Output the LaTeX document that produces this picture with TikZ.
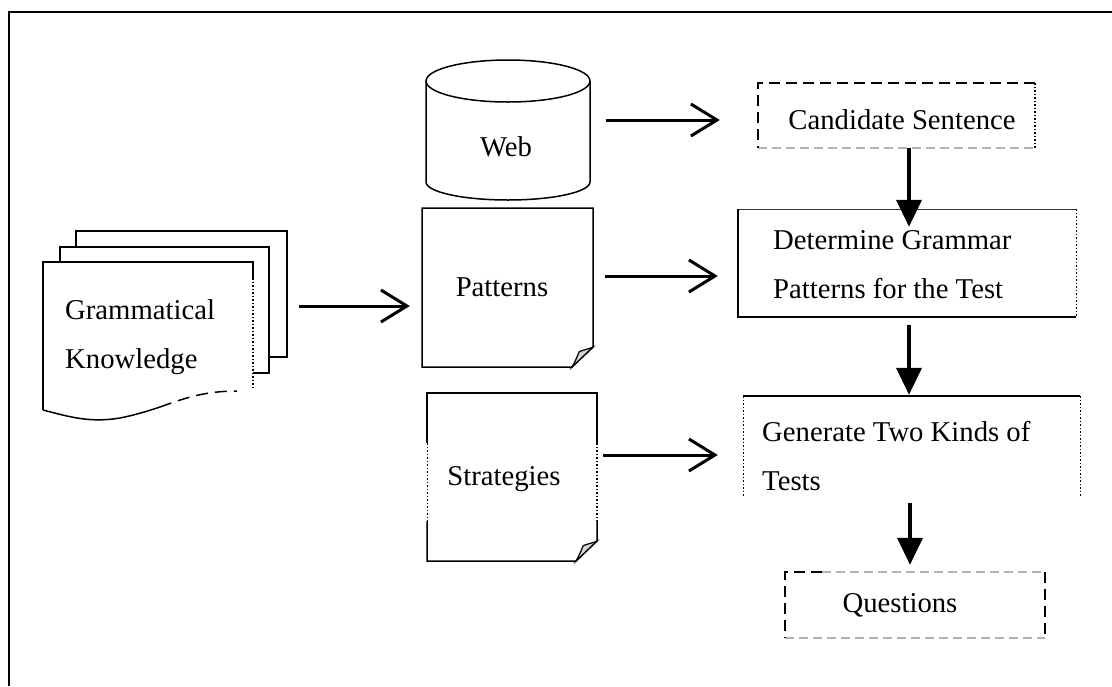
\documentclass[tikz,border=0pt]{standalone}
\usepackage{fontspec}
\setmainfont{Liberation Serif}
\usetikzlibrary{arrows.meta}
\begin{document}
\begin{tikzpicture}[x=1pt,y=-1pt,
  lbl/.style={font=\fontsize{28.7}{49}\selectfont, inner sep=0pt},
  area/.style={draw=none, inner sep=0pt},
  shp/.style={line width=1.5pt, line join=miter},
  openarr/.style={line width=3pt, -{Straight Barb[length=26pt,width=32pt,line width=3pt]}},
  filarr/.style={line width=4pt, -{Triangle[length=27pt,width=25pt]}},
  dashblk/.style={line width=1.5pt, dash pattern=on 11pt off 6pt},
  dashgray/.style={line width=1.2pt, gray!60, dash pattern=on 9pt off 5pt},
  dotblk/.style={line width=1.3pt, dash pattern=on 1.5pt off 2pt}]
\useasboundingbox (0,0) rectangle (1112,686);
% frame
\draw[line width=2pt] (9,686) -- (9,12) -- (1112,12);

% ---- invisible areas of the shapes
\node[area, minimum width=210pt, minimum height=148pt] (gkdoc) at (148,336) {};
\node[area, minimum width=164pt, minimum height=140pt] (web) at (508,130) {};
\node[area, minimum width=171pt, minimum height=159pt] (pat) at (507.5,287.5) {};
\node[area, minimum width=170pt, minimum height=168pt] (strat) at (512,477) {};
\node[area, minimum width=277pt, minimum height=65pt] (cand) at (896.5,115.5) {};
\node[area, minimum width=338pt, minimum height=108pt] (det) at (907,263) {};
\node[area, minimum width=337pt, minimum height=101pt] (gen) at (911.5,446.5) {};
\node[area, minimum width=260pt, minimum height=66pt] (ques) at (915,605) {};

% ---- multi-document
\draw[shp] (76,247) -- (76,231) -- (287,231) -- (287,357) -- (268,357);
\draw[shp] (60,262) -- (60,247) -- (269,247) -- (269,373) -- (253,373);
\draw[shp] (43,410) -- (43,262) -- (253,262) -- (253,278);
\draw[dotblk] (253,278) -- (253,388);
\draw[shp] (43,410) .. controls (70,417) and (90,423) .. (120,418) .. controls (135,415) and (148,411) .. (160,407);
\draw[line width=1.5pt, dash pattern=on 12pt off 7pt] (160,407) .. controls (185,398) and (205,391) .. (237,391);

% ---- cylinder
\draw[shp, fill=white] (426,81) -- (426,182) arc[start angle=180, end angle=0, x radius=82, y radius=18] -- (590,81);
\draw[shp] (508,81) ellipse[x radius=82, y radius=21];

% ---- note: patterns
\draw[shp] (422,208) -- (593,208) -- (593,347) -- (572,367) -- (422,367) -- cycle;
\filldraw[line width=1.2pt, fill=gray!35] (593,347) .. controls (586,350) and (582,350) .. (579,352) .. controls (577,357) and (575,362) .. (572,367) -- cycle;

% ---- note: strategies
\draw[shp] (427,443) -- (427,393) -- (597,393) -- (597,443);
\draw[shp] (427,521) -- (427,561) -- (576,561) -- (597,541) -- (597,521);
\draw[dotblk, line width=1pt] (427,443) -- (427,521);
\draw[dotblk] (597,443) -- (597,521);
\filldraw[line width=1.2pt, fill=gray!35] (597,541) .. controls (590,544) and (586,544) .. (583,546) .. controls (581,551) and (579,556) .. (576,561) -- cycle;

% ---- candidate sentence box
\draw[dashgray] (758,148) -- (1035,148);
\draw[dashblk] (1035,83) -- (758,83) -- (758,148);
\draw[dotblk] (1035,83) -- (1035,148);

% ---- determine box
\draw[line width=0.9pt, black!80] (738,209) -- (1076,209);
\draw[shp] (738,209) -- (738,317) -- (1076,317);
\draw[dotblk, line width=1pt] (1076,209) -- (1076,317);

% ---- generate box
\draw[line width=1.2pt] (743,396) -- (1080,396);
\draw[dotblk, line width=1pt] (743,396) -- (743,497);
\draw[dotblk, line width=1pt] (1080,396) -- (1080,497);

% ---- questions box
\draw[dashgray] (822,572) -- (1045,572);
\draw[dashgray] (785,638) -- (1045,638);
\draw[dashblk] (822,572) -- (785,572) -- (785,638);
\draw[dashblk] (1045,572) -- (1045,638);

% ---- texts
\node[lbl, align=left, anchor=west] (gkt) at (65,337) {Grammatical\\Knowledge};
\node[lbl] (webt) at (506,147) {Web};
\node[lbl] (patt) at (502,287) {Patterns};
\node[lbl] (stratt) at (504,479) {Strategies};
\node[lbl] (candt) at (902,120) {Candidate Sentence};
\node[lbl, align=left, anchor=west] (dett) at (773,265) {Determine Grammar\\Patterns for the Test};
\node[lbl, align=left, anchor=west] (gent) at (762,456) {Generate Two Kinds of\\Tests};
\node[lbl] (quest) at (900,605) {Questions};

% ---- connectors
\coordinate (g1) at ([yshift=30pt]gkdoc.east);
\draw[openarr, shorten <=46pt, shorten >=12pt] (g1) -- (g1 -| pat.west);
\coordinate (w1) at ([yshift=10pt]web.east);
\draw[openarr, shorten <=16pt, shorten >=38pt] (w1) -- (w1 -| cand.west);
\coordinate (p1) at ([yshift=11.5pt]pat.east);
\draw[openarr, shorten <=12pt, shorten >=20pt] (p1) -- (p1 -| det.west);
\coordinate (s1) at ([yshift=22pt]strat.east);
\draw[openarr, shorten <=6pt, shorten >=25pt] (s1) -- (s1 -| gen.west);

\coordinate (c1) at ([xshift=12.5pt]cand.south);
\draw[filarr, shorten >=-18pt] (c1) -- (c1 |- det.north);
\coordinate (d1) at ([xshift=2pt]det.south);
\draw[filarr, shorten <=8pt, shorten >=1pt] (d1) -- (d1 |- gen.north);
\coordinate (e1) at ([xshift=-1.5pt]gen.south);
\draw[filarr, shorten <=6pt, shorten >=7pt] (e1) -- (e1 |- ques.north);
\end{tikzpicture}
\end{document}
